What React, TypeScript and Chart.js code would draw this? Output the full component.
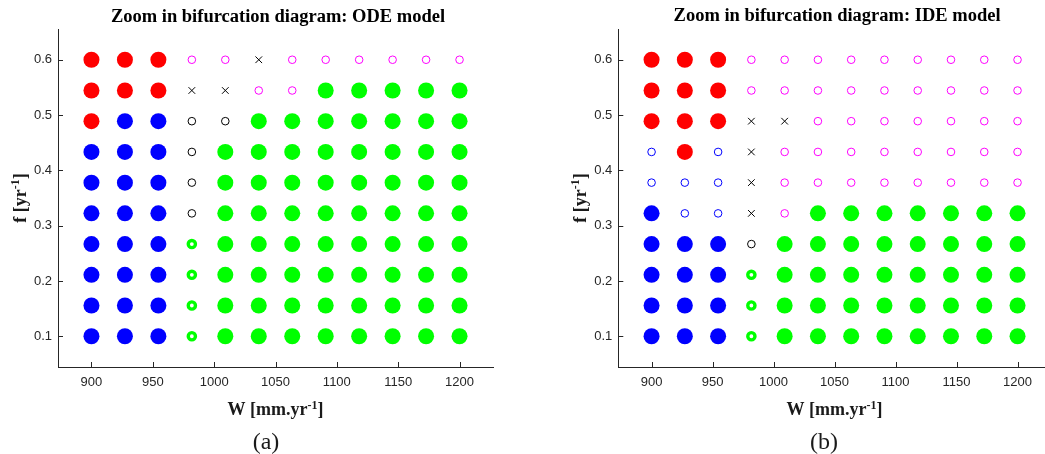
import React, { useEffect, useRef } from "react";
import { Chart, registerables } from "chart.js";

Chart.register(...registerables);

// ---- data ----
const W_VALUES = [900, 927.27, 954.55, 981.82, 1009.09, 1036.36, 1063.64, 1090.91, 1118.18, 1145.45, 1172.73, 1200];
const F_VALUES = [0.1, 0.1556, 0.2111, 0.2667, 0.3222, 0.3778, 0.4333, 0.4889, 0.5444, 0.6];
const X_TICKS = [900, 950, 1000, 1050, 1100, 1150, 1200];
const Y_TICKS = [0.1, 0.2, 0.3, 0.4, 0.5, 0.6];
const X_RANGE = [872.73, 1227.27];
const Y_RANGE = [0.0444, 0.6556];

// state codes, rows listed from f = 0.6 (top) down to f = 0.1 (bottom), columns follow W_VALUES
const ODE_STATES = [
  "RRRmmxmmmmmm",
  "RRRxxmmGGGGG",
  "RBBkkGGGGGGG",
  "BBBkGGGGGGGG",
  "BBBkGGGGGGGG",
  "BBBkGGGGGGGG",
  "BBBgGGGGGGGG",
  "BBBgGGGGGGGG",
  "BBBgGGGGGGGG",
  "BBBgGGGGGGGG",
];
const IDE_STATES = [
  "RRRmmmmmmmmm",
  "RRRmmmmmmmmm",
  "RRRxxmmmmmmm",
  "bRbxmmmmmmmm",
  "bbbxmmmmmmmm",
  "BbbxmGGGGGGG",
  "BBBkGGGGGGGG",
  "BBBgGGGGGGGG",
  "BBBgGGGGGGGG",
  "BBBgGGGGGGGG",
];
const STATE_ORDER = ["R", "B", "G", "g", "m", "b", "k", "x"];

// ---- styles ----
const MARKERS: Record<string, any> = {
  R: { style: "circle", r: 8, bg: "#ff0000", bc: "#ff0000", bw: 0 },
  B: { style: "circle", r: 8, bg: "#0000ff", bc: "#0000ff", bw: 0 },
  G: { style: "circle", r: 8, bg: "#00ff00", bc: "#00ff00", bw: 0 },
  g: { style: "circle", r: 3.6, bg: "#ffffff", bc: "#00ff00", bw: 3.4 },
  m: { style: "circle", r: 3.8, bg: "rgba(0,0,0,0)", bc: "#ff00ff", bw: 1 },
  b: { style: "circle", r: 3.8, bg: "rgba(0,0,0,0)", bc: "#0000ff", bw: 1 },
  k: { style: "circle", r: 3.8, bg: "rgba(0,0,0,0)", bc: "#000000", bw: 1 },
  x: { style: "crossRot", r: 4.7, bg: "#000000", bc: "#000000", bw: 1 },
};

const AXIS_COLOR = "#262626";
const SERIF = '"Liberation Serif", "Times New Roman", serif';
const SANS = '"Liberation Sans", Arial, sans-serif';

function buildDatasets(states: string[]) {
  const n = F_VALUES.length;
  return STATE_ORDER.map((code) => {
    const data: { x: number; y: number }[] = [];
    states.forEach((row, i) => {
      const f = F_VALUES[n - 1 - i];
      row.split("").forEach((c, j) => {
        if (c === code) data.push({ x: W_VALUES[j], y: f });
      });
    });
    const m = MARKERS[code];
    return {
      label: code,
      data,
      showLine: false,
      pointStyle: m.style,
      pointRadius: m.r,
      pointHoverRadius: m.r,
      pointBackgroundColor: m.bg,
      pointBorderColor: m.bc,
      pointBorderWidth: m.bw,
      pointHoverBorderWidth: m.bw,
    };
  });
}

function drawSupText(ctx: CanvasRenderingContext2D, main1: string, sup: string, main2: string, cx: number, baseline: number, size: number) {
  const mainFont = `bold ${size}px ${SERIF}`;
  const supFont = `bold ${Math.round(size * 0.68)}px ${SERIF}`;
  ctx.font = mainFont;
  const w1 = ctx.measureText(main1).width;
  const w3 = ctx.measureText(main2).width;
  ctx.font = supFont;
  const w2 = ctx.measureText(sup).width;
  let x = cx - (w1 + w2 + w3) / 2;
  ctx.textAlign = "left";
  ctx.textBaseline = "alphabetic";
  ctx.font = mainFont;
  ctx.fillText(main1, x, baseline);
  x += w1;
  ctx.font = supFont;
  ctx.fillText(sup, x, baseline - size * 0.36);
  x += w2;
  ctx.font = mainFont;
  ctx.fillText(main2, x, baseline);
}

const decorPlugin = {
  id: "decor",
  afterDraw(chart: any, _args: any, opts: any) {
    const ctx: CanvasRenderingContext2D = chart.ctx;
    const area = chart.chartArea;
    const xs = chart.scales.x;
    const ys = chart.scales.y;
    ctx.save();
    // inward tick marks
    ctx.strokeStyle = AXIS_COLOR;
    ctx.lineWidth = 1;
    ctx.beginPath();
    X_TICKS.forEach((v) => {
      const px = Math.round(xs.getPixelForValue(v)) + 0.5;
      ctx.moveTo(px, area.bottom);
      ctx.lineTo(px, area.bottom - 5);
    });
    Y_TICKS.forEach((v) => {
      const py = Math.round(ys.getPixelForValue(v)) + 0.5;
      ctx.moveTo(area.left, py);
      ctx.lineTo(area.left + 5, py);
    });
    ctx.stroke();

    const cxArea = (area.left + area.right) / 2;
    const cyArea = (area.top + area.bottom) / 2;
    ctx.fillStyle = "#000000";
    // title
    ctx.font = `bold 18.5px ${SERIF}`;
    ctx.textAlign = "center";
    ctx.textBaseline = "alphabetic";
    ctx.fillText(opts.title, cxArea + 2.5, opts.titleY);
    // x label
    ctx.fillStyle = "#1a1a1a";
    drawSupText(ctx, "W [mm.yr", "-1", "]", cxArea, 415, 18);
    // y label
    ctx.save();
    ctx.translate(area.left - 32.5, cyArea);
    ctx.rotate(-Math.PI / 2);
    drawSupText(ctx, "f [yr", "-1", "]", 0, 0, 18);
    ctx.restore();
    // caption
    ctx.fillStyle = "#1a1a1a";
    ctx.font = `24px ${SERIF}`;
    ctx.textAlign = "center";
    ctx.textBaseline = "alphabetic";
    ctx.fillText(opts.caption, opts.captionX, 449);
    ctx.restore();
  },
};

function Panel(props: { states: string[]; title: string; caption: string; left: number; width: number; areaLeft: number; padRight: number; titleY: number; captionX: number }) {
  const ref = useRef<HTMLCanvasElement | null>(null);
  useEffect(() => {
    if (!ref.current) return;
    const chart = new Chart(ref.current, {
      type: "scatter",
      data: { datasets: buildDatasets(props.states) as any },
      plugins: [decorPlugin as any],
      options: {
        animation: false,
        responsive: false,
        devicePixelRatio: 1,
        layout: { padding: { left: 0, right: props.padRight, top: 29, bottom: 0 } },
        plugins: {
          legend: { display: false },
          tooltip: { enabled: false },
          decor: { title: props.title, caption: props.caption, titleY: props.titleY, captionX: props.captionX },
        } as any,
        scales: {
          x: {
            type: "linear",
            position: "bottom",
            min: X_RANGE[0],
            max: X_RANGE[1],
            afterBuildTicks: (s: any) => {
              s.ticks = X_TICKS.map((v) => ({ value: v }));
            },
            afterFit: (s: any) => {
              s.height = 87;
            },
            ticks: {
              autoSkip: false,
              maxRotation: 0,
              padding: 8,
              color: AXIS_COLOR,
              font: { family: SANS, size: 13 },
              callback: (v: any) => String(v),
            },
            grid: { display: false, drawTicks: false },
            border: { display: true, color: AXIS_COLOR, width: 1 },
          },
          y: {
            type: "linear",
            position: "left",
            min: Y_RANGE[0],
            max: Y_RANGE[1],
            afterBuildTicks: (s: any) => {
              s.ticks = Y_TICKS.map((v) => ({ value: v }));
            },
            afterFit: (s: any) => {
              s.width = props.areaLeft;
            },
            ticks: {
              autoSkip: false,
              padding: 6,
              color: AXIS_COLOR,
              font: { family: SANS, size: 13 },
              callback: (v: any) => Number(v).toFixed(1),
            },
            grid: { display: false, drawTicks: false },
            border: { display: true, color: AXIS_COLOR, width: 1 },
          },
        },
      },
    });
    return () => chart.destroy();
  }, []);
  return (
    <canvas
      ref={ref}
      width={props.width}
      height={454}
      style={{ position: "absolute", left: props.left, top: 0, width: props.width, height: 454 }}
    />
  );
}

export default function App() {
  return (
    <div style={{ position: "fixed", left: 0, top: 0, width: 1045, height: 454, overflow: "hidden", background: "#ffffff" }}>
      <Panel states={ODE_STATES} title="Zoom in bifurcation diagram: ODE model" caption="(a)" left={0} width={520} areaLeft={58} padRight={27} titleY={22} captionX={266} />
      <Panel states={IDE_STATES} title="Zoom in bifurcation diagram: IDE model" caption="(b)" left={520} width={540} areaLeft={98.3} padRight={9.2} titleY={21} captionX={304} />
    </div>
  );
}
